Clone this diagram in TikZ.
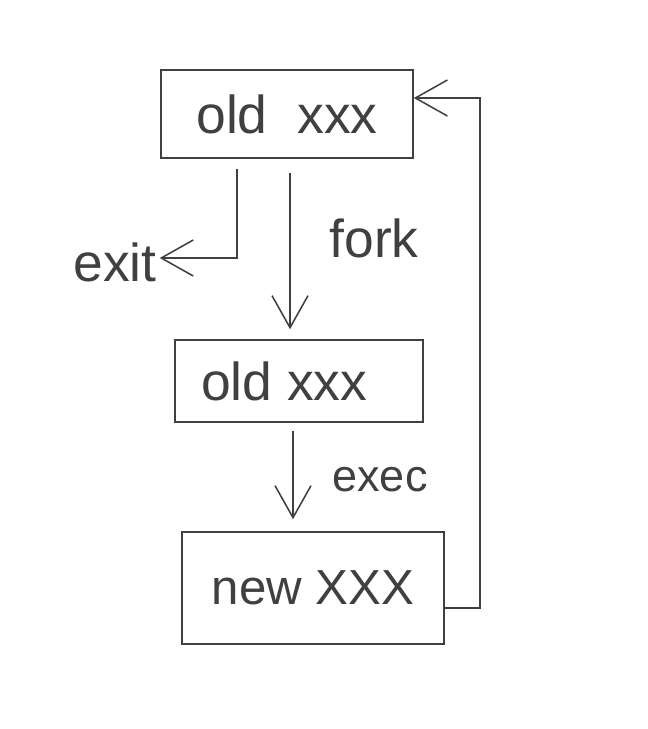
\documentclass[tikz,border=0pt]{standalone}
\usepackage{fontspec}
\setmainfont{Liberation Sans}
\usetikzlibrary{arrows.meta, positioning, calc}

\begin{document}
\begin{tikzpicture}[
  x=0.025cm, y=-0.025cm,
  font=\fontsize{38}{42}\selectfont,
  proc/.style={rectangle, draw=black!75, line width=1.1pt, text=black!75,
               inner sep=0pt, align=center},
  lbl/.style={text=black!75, inner sep=2pt},
  arr/.style={-{Straight Barb[length=8mm, width=9mm]}, line width=1.1pt, draw=black!75}
]
\useasboundingbox (0,0) rectangle (647,729);
%% process boxes
\node[proc, minimum width=6.3cm,  minimum height=2.2cm]  (old_top) at (287,114) {old\ \ xxx};
\node[proc, minimum width=6.2cm,  minimum height=2.05cm] (old_mid) at (299,381) {old xxx\ \ };
\node[proc, minimum width=6.55cm, minimum height=2.8cm,
      font=\fontsize{35}{40}\selectfont]                 (new_bot) at (313,588) {new XXX};
%% labels
\node[lbl] (exit) at (115,262) {exit};
\node[lbl] (fork) at (374,238) {fork};
\node[lbl, font=\fontsize{32}{36}\selectfont] (exec) at (380,480) {exec};
%% bend points
\coordinate (exit_bend) at (237,258);
\coordinate (loop_br)   at (480,608);
\coordinate (loop_tr)   at (480,98);
%% arrows
\draw[arr] ($(old_top.south)+(-50,10)$) -- (exit_bend) -- (exit.east |- exit_bend);
\draw[arr] ($(old_top.south)+(3,14)$) -- ($(old_mid.north)+(-9,-10)$);
\draw[arr] ($(old_mid.south)+(-6,8)$) -- ($(new_bot.north)+(-20,-12)$);
%% loop back: new program returns to the top
\draw[arr] (new_bot.east |- loop_br) -- (loop_br) -- (loop_tr) -- (old_top.east |- loop_tr);
\end{tikzpicture}
\end{document}
